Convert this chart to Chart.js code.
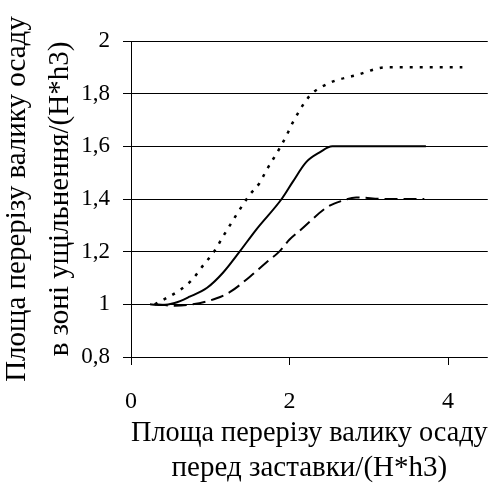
<!DOCTYPE html>
<html>
<head>
<meta charset="utf-8">
<script src="https://cdn.jsdelivr.net/npm/chart.js@4"></script>
<style>
  body { margin: 0; background: #fff; }
  canvas { display: block; }
  #warm { position: absolute; left: -2000px; top: 0; font: 24px 'Liberation Serif', serif; }
</style>
</head>
<body>
<div id="warm">Площа 0,8 1,2 (Н*h3)</div>
<canvas id="canvas" width="489" height="504"></canvas>
<script>
// series
const dottedX = [0.3, 0.62, 0.77, 0.89, 1.06, 1.16, 1.5, 1.62, 1.71, 1.87, 1.96, 2.04, 2.25, 2.5, 2.84, 3.22, 3.63, 4.18]
const dottedY = [1.0, 1.055, 1.093, 1.14, 1.206, 1.257, 1.417, 1.46, 1.51, 1.59, 1.64, 1.69, 1.79, 1.84, 1.87, 1.9, 1.9, 1.9]

const solidX = [0.24, 0.4, 0.55, 0.74, 0.96, 1.16, 1.37, 1.58, 1.9, 2.04, 2.21, 2.38, 2.54, 3.0, 3.72]
const solidY = [1.0, 0.997, 1.005, 1.029, 1.063, 1.12, 1.2, 1.284, 1.4, 1.465, 1.54, 1.577, 1.6, 1.6, 1.6]

const dashedX = [0.3, 0.55, 0.78, 1.08, 1.25, 1.5, 1.71, 1.87, 2.0, 2.13, 2.48, 2.67, 2.84, 3.2, 3.7]
const dashedY = [1.0, 0.995, 1.0, 1.023, 1.047, 1.105, 1.16, 1.2, 1.246, 1.28, 1.37, 1.394, 1.406, 1.4, 1.4]

const yTitle = ['Площа перерізу валику осаду', 'в зоні ущільнення/(Н*h3)']
const xTitle = ['Площа перерізу валику осаду', 'перед заставки/(Н*h3)']

const toPoints = (xs, ys) => xs.map((x, i) => ({ x: x, y: ys[i] }))

const fam = "'Liberation Serif', 'Times New Roman', serif"

const line = (label, xs, ys, width, dash) => ({
    label: label,
    data: toPoints(xs, ys),
    borderColor: '#000',
    borderWidth: width,
    borderDash: dash,
    pointRadius: 0,
    fill: false,
    cubicInterpolationMode: 'monotone'
})

const chart = new Chart(document.getElementById('canvas'), {
    type: 'line',
    data: {
        datasets: [
            line('dotted', dottedX, dottedY, 2.5, [3, 7]),
            line('solid', solidX, solidY, 2, []),
            line('dashed', dashedX, dashedY, 2, [13, 6])
        ]
    },
    options: {
        responsive: false,
        animation: false,
        devicePixelRatio: 1,
        layout: { padding: { top: 41 } },
        plugins: { legend: { display: false }, tooltip: { enabled: false } },
        scales: {
            x: {
                type: 'linear',
                min: 0,
                max: 4.5,
                afterFit: (s) => { s.height = 147 },
                grid: { drawOnChartArea: false, color: '#000', tickLength: 8 },
                border: { display: false },
                ticks: {
                    stepSize: 2,
                    includeBounds: false,
                    color: '#000',
                    padding: 22,
                    font: { family: fam, size: 24 }
                },
                title: {
                    display: true,
                    text: xTitle,
                    color: '#000',
                    font: { family: fam, size: 29, lineHeight: 1.2 },
                    padding: { top: 0, bottom: 18 }
                }
            },
            y: {
                min: 0.8,
                max: 2,
                afterFit: (s) => { s.width = 131 },
                grid: { color: '#000', tickLength: 8 },
                border: { display: true, color: '#000' },
                ticks: {
                    stepSize: 0.2,
                    color: '#000',
                    padding: 13,
                    font: { family: fam, size: 23 },
                    callback: (v) => String(Math.round(v * 10) / 10).replace('.', ',')
                },
                title: {
                    display: true,
                    text: yTitle,
                    color: '#000',
                    font: { family: fam, size: 29, lineHeight: 1.48 },
                    padding: { top: -4, bottom: 0 }
                }
            }
        }
    }
})

// redraw once the serif font is surely in place
const redraw = () => chart.update('none')
document.fonts.check("24px 'Liberation Serif'")
document.fonts.ready.then(redraw)
setTimeout(redraw, 50)
setTimeout(redraw, 300)
</script>
</body>
</html>
